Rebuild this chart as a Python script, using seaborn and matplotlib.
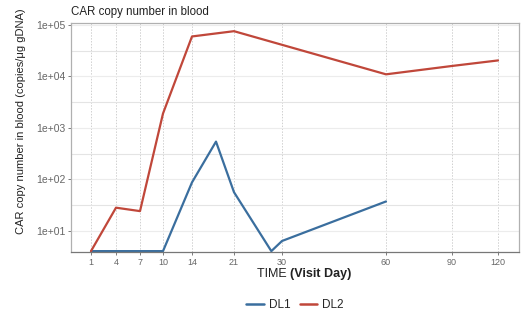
import numpy as np
import pandas as pd
import matplotlib
matplotlib.use("Agg")
import matplotlib.pyplot as plt
import seaborn as sns
from matplotlib.lines import Line2D

# ---- data ----
dl1_days = [1, 4, 7, 10, 14, 18, 21, 28, 30, 60]
dl1_vals = [4, 4, 4, 4, 87, 540, 56, 4, 6.3, 37]
dl2_days = [1, 4, 7, 10, 14, 21, 60, 90, 120]
dl2_vals = [4, 28, 24, 1900, 60000, 76000, 11000, 16000, 20500]
tick_days = [1, 4, 7, 10, 14, 21, 30, 60, 90, 120]
y_ticks = [1e1, 1e2, 1e3, 1e4, 1e5]
y_labels = ["1e+01", "1e+02", "1e+03", "1e+04", "1e+05"]

df = pd.concat([
    pd.DataFrame({"day": dl1_days, "value": dl1_vals, "group": "DL1"}),
    pd.DataFrame({"day": dl2_days, "value": dl2_vals, "group": "DL2"}),
], ignore_index=True)

# ---- custom visit-day axis scale (non-linear spacing of visit days) ----
knot_pos = np.array([0, 25, 49, 72, 101, 143, 191, 295, 361, 407], dtype=float)
knot_day = np.array(tick_days, dtype=float)

def _interp_ext(x, xp, fp):
    x = np.asarray(x, dtype=float)
    y = np.interp(x, xp, fp)
    s0 = (fp[1] - fp[0]) / (xp[1] - xp[0])
    s1 = (fp[-1] - fp[-2]) / (xp[-1] - xp[-2])
    y = np.where(x < xp[0], fp[0] + (x - xp[0]) * s0, y)
    y = np.where(x > xp[-1], fp[-1] + (x - xp[-1]) * s1, y)
    return y

fwd = lambda d: _interp_ext(d, knot_day, knot_pos)
inv = lambda p: _interp_ext(p, knot_pos, knot_day)

sns.set_theme(style="white")
plt.rcParams['font.family'] = ['Liberation Sans', 'DejaVu Sans']

fig = plt.figure(figsize=(5.23, 3.2), dpi=100)
ax = fig.add_axes([71/523, 1-252/320, (519-71)/523, (252-23)/320])

ax.set_xscale('function', functions=(fwd, inv))
ax.set_yscale('log')

# grid
for d in tick_days:
    ax.axvline(d, color="#d0d0d0", lw=0.7, ls=(0, (1.5, 1.5)), zorder=0)
for e in range(0, 6):
    ax.axhline(10**e, color="#ececec", lw=0.8, zorder=0)
    ax.axhline(10**(e + 0.5), color="#e4e4e4", lw=0.8, zorder=0)

palette = {"DL1": "#3a6e9e", "DL2": "#c0473a"}
sns.lineplot(data=df, x="day", y="value", hue="group", palette=palette,
             lw=1.6, ax=ax, legend=False, estimator=None, sort=True)

ax.set_xlim(inv(-20), inv(428))
ax.set_ylim(10**0.585, 10**5.04)
ax.set_xticks(tick_days)
ax.set_xticklabels([str(d) for d in tick_days])
ax.xaxis.set_minor_locator(matplotlib.ticker.NullLocator())
ax.set_yticks(y_ticks)
ax.set_yticklabels(y_labels)
ax.yaxis.set_minor_locator(matplotlib.ticker.NullLocator())
ax.tick_params(axis="y", which="major", labelsize=7.5, labelcolor="#666666",
               color="#666666", length=2.5, width=0.6, pad=1.5, left=True)
ax.tick_params(axis="x", which="major", labelsize=6.5, labelcolor="#666666",
               color="#666666", length=2.5, width=0.6, pad=1.5, bottom=True)

for sp in ax.spines.values():
    sp.set_color("#b0b0b0")
    sp.set_linewidth(0.9)
ax.spines["bottom"].set_color("#777777")

ax.set_xlabel("")
ax.set_ylabel("")
fig.text(21/523, 1-121/320, "CAR copy number in blood (copies/\u03bcg gDNA)",
         rotation=90, fontsize=8, color="#222222", ha="center", va="center")
fig.text(71/523, 1-12/320, "CAR copy number in blood",
         fontsize=8.3, color="#222222", ha="left", va="center")

# x label: "TIME " normal + "(Visit Day)" bold
xl_y = 1 - 274/320
fig.text(0.5545, xl_y, "TIME ", fontsize=9, color="#222222", ha="right", va="center")
fig.text(0.5545, xl_y, "(Visit Day)", fontsize=9, color="#222222",
         fontweight="bold", ha="left", va="center")

handles = [Line2D([], [], color=palette[g], lw=1.8) for g in ["DL1", "DL2"]]
fig.legend(handles, ["DL1", "DL2"], loc="center", bbox_to_anchor=(295/523, 1-305/320),
           ncol=2, frameon=False, fontsize=8.5, handlelength=1.5, columnspacing=0.8,
           handletextpad=0.4)

fig.savefig("out.png", dpi=100)
